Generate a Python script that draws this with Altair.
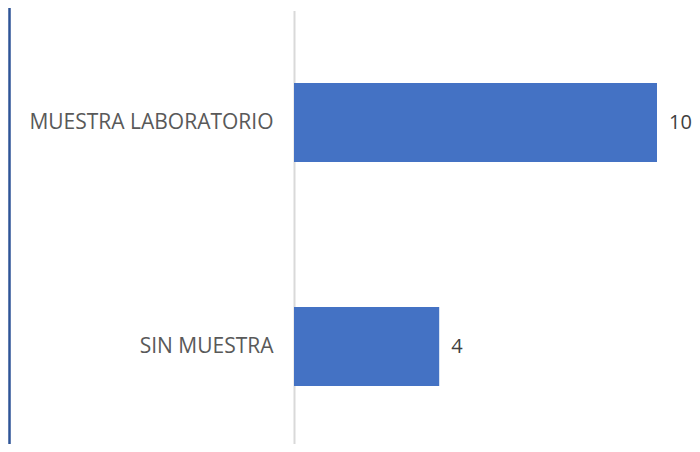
import altair as alt
import pandas as pd

categories = ["MUESTRA LABORATORIO", "SIN MUESTRA"]
values = [10, 4]

df = pd.DataFrame({"cat": categories, "val": values})

H = 433.5
W = 363

base = alt.Chart(df).encode(
    y=alt.Y(
        "cat:N",
        sort=categories,
        title=None,
        scale=alt.Scale(paddingInner=0.647, paddingOuter=0.2911, align=0.556),
        axis=alt.Axis(
            domainColor="#d9d9d9",
            domainWidth=2,
            ticks=False,
            labelPadding=21,
            labelFont="Open Sans",
            labelFontSize=21,
            labelColor="#595959",
            labelLimit=400,
            grid=False,
        ),
    ),
    x=alt.X("val:Q", title=None, axis=None, scale=alt.Scale(domain=[0, 10], nice=False)),
)

bars = base.mark_bar(color="#4472C4")
labels = base.mark_text(
    align="left", baseline="middle", dx=12, font="Open Sans", fontSize=20, color="#404040"
).encode(text="val:Q")

border = alt.Chart(df).mark_rule(color="#2F5597", strokeWidth=2).encode(
    x=alt.value(-284.5), y=alt.value(-3), y2=alt.value(H + 3)
)

chart = (
    alt.layer(bars, labels, border)
    .properties(
        width=W,
        height=H,
        padding={"left": 286, "top": 2.5, "right": 35, "bottom": 0},
        autosize=alt.AutoSizeParams(type="none"),
        view=alt.ViewBackground(strokeWidth=0, stroke="white"),
    )
    .configure_view(strokeWidth=0)
    .configure(background="white")
)

chart.save("out.html", embed_options={"renderer": "svg", "actions": False})
